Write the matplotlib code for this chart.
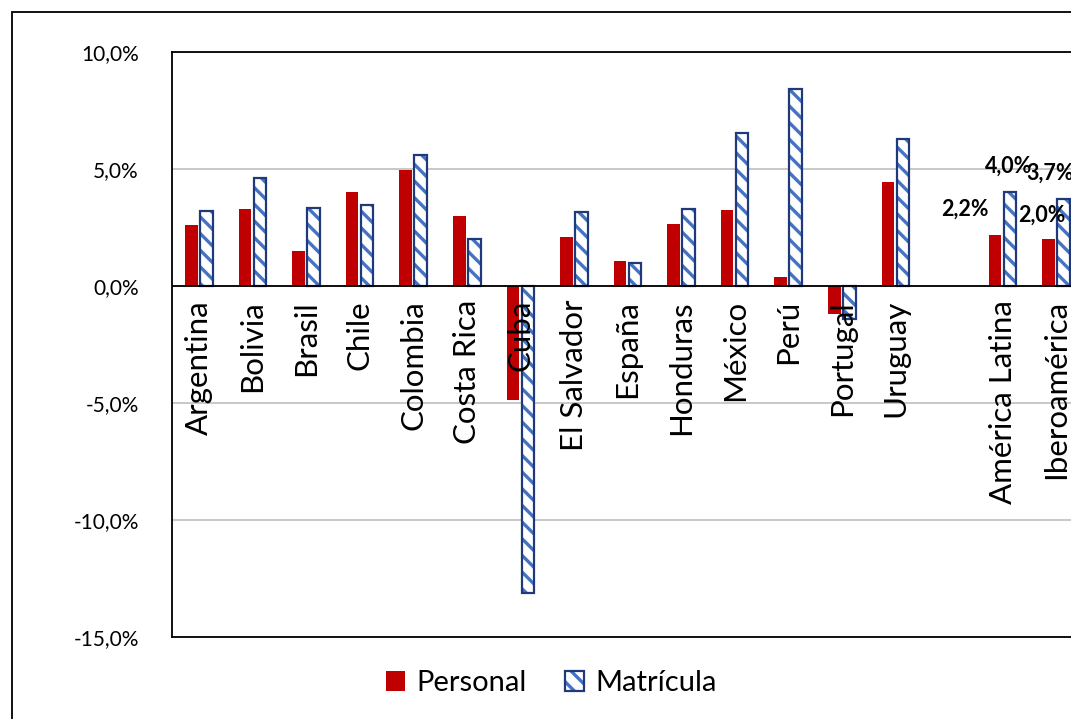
import numpy as np
import matplotlib.pyplot as plt
from matplotlib.patches import Patch, Rectangle

plt.rcParams['font.family'] = ['Lato', 'DejaVu Sans']
plt.rcParams['hatch.linewidth'] = 2.4

# data (percent)
paises = ["Argentina", "Bolivia", "Brasil", "Chile", "Colombia", "Costa Rica", "Cuba",
          "El Salvador", "España", "Honduras", "México", "Perú", "Portugal", "Uruguay",
          "", "América Latina", "Iberoamérica"]
personal = [2.6, 3.3, 1.5, 4.0, 4.95, 3.0, -4.85, 2.1, 1.05, 2.65, 3.25, 0.4, -1.2, 4.45,
            np.nan, 2.2, 2.0]
matricula = [3.2, 4.6, 3.35, 3.45, 5.6, 2.0, -13.1, 3.15, 1.0, 3.3, 6.55, 8.4, -1.4, 6.3,
             np.nan, 4.0, 3.7]
yticks = [10, 5, 0, -5, -10, -15]

rojo = '#C00000'
azul = '#4472C4'
marino = '#1F3A7A'

fig = plt.figure(figsize=(10.71, 7.19), dpi=100)
ax = fig.add_axes([0.1606, 0.114, 0.8506, 0.8137])

x = np.arange(len(paises))
w = 0.235
off = 0.14

ax.bar(x - off, personal, w, color=rojo, zorder=3)
ax.bar(x + off, matricula, w, facecolor='white', edgecolor=azul, hatch='\\\\', linewidth=0, zorder=3)
ax.bar(x + off, matricula, w, fill=False, edgecolor=marino, linewidth=1.6, zorder=4)

ax.set_xlim(-0.5, len(paises) - 0.5)
ax.set_ylim(-15, 10)
ax.set_yticks(yticks)
ax.set_yticklabels([f"{v:.1f}%".replace('.', ',') for v in yticks], fontsize=15)
ax.tick_params(axis='y', length=0, pad=24)
ax.set_xticks([])
ax.grid(axis='y', color='#BFBFBF', linewidth=1.2, zorder=0)
ax.axhline(0, color='black', linewidth=1.3, zorder=5)
for s in ax.spines.values():
    s.set_linewidth(1.3)
    s.set_color('black')

for xi, name in zip(x, paises):
    if name:
        ax.annotate(name, (xi, 0), xytext=(0, -10), textcoords='offset points',
                    rotation=90, ha='center', va='top', fontsize=22.5, zorder=6)

# data labels for the aggregates
etiquetas = [
    (15 - off, personal[15], -22, 18),
    (15 + off, matricula[15], -1, 19),
    (16 - off, personal[16], -5, 17),
    (16 + off, matricula[16], -10, 19),
]
for xi, yi, dx, dy in etiquetas:
    ax.annotate(f"{yi:.1f}%".replace('.', ','), (xi, yi), xytext=(dx, dy),
                textcoords='offset points', ha='center', va='center',
                fontsize=15.5, fontweight='bold', zorder=7, annotation_clip=False)

h1 = Patch(facecolor=rojo)
h2a = Patch(facecolor='white', edgecolor=azul, hatch='\\\\', linewidth=0)
h2b = Patch(fill=False, edgecolor=marino, linewidth=1.6)
fig.legend([h1, (h2a, h2b)], ["Personal", "Matrícula"], loc='center',
           bbox_to_anchor=(0.515, 0.05), ncol=2, frameon=False, fontsize=21,
           handlelength=0.65, handleheight=0.65, handletextpad=0.4, columnspacing=1.3)

fig.patches.append(Rectangle((12 / 1071, -0.1), 1.2, 1 - 12 / 719 + 0.1,
                             transform=fig.transFigure, fill=False,
                             edgecolor='black', linewidth=1.3))

fig.savefig('out.png', dpi=100)
